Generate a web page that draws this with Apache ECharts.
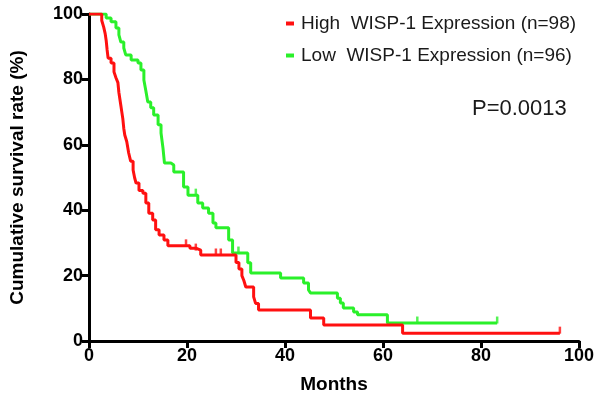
<!DOCTYPE html>
<html>
<head>
<meta charset="utf-8">
<script src="https://cdn.jsdelivr.net/npm/echarts@6/dist/echarts.min.js"></script>
<style>html,body{margin:0;padding:0;background:#fff}#c{width:600px;height:403px}</style>
</head>
<body>
<div id="c"></div>
<script>
var xTicks = [0, 20, 40, 60, 80, 100];
var yTicks = [0, 20, 40, 60, 80, 100];
var highName = 'High  WISP-1 Expression (n=98)';
var lowName = 'Low  WISP-1 Expression (n=96)';
var pText = 'P=0.0013';

var highSteps = [
  [0,100],[2.6,98],[3.0,96],[3.3,94],[3.5,92],[3.7,89],[3.9,86.5],[4.5,85],[5.1,82.3],
  [5.5,80.5],[5.9,79],[6.1,76],[6.3,74],[6.5,72],[6.7,70],[6.9,68],[7.1,65],[7.3,63],
  [7.7,61],[8.1,57.5],[8.5,55],[9.0,52.3],[9.3,50],[9.6,48.3],[10.2,46],[11.0,45.2],
  [11.6,42.2],[12.2,39.1],[13.0,37],[13.6,34],[14.3,32.4],[15.3,30.9],[16.1,29.1],
  [20.6,28.4],[21.8,27.8],[22.8,26.3],[30.0,24],[30.6,22],[31.2,20],[31.6,18.5],
  [32.0,16.5],[33.6,13.5],[34.0,11.5],[34.6,9.5],[45.2,7.0],[47.9,4.9],[64.0,2.4],[96.1,2.4]
];
var lowSteps = [
  [0,100],[2.85,100],[3.5,98.8],[4.5,97.6],[5.5,95.7],[6.1,93.6],[6.5,91.4],[7.1,89.6],
  [7.5,87.5],[8.6,85.9],[10.0,85.0],[10.6,82.9],[11.2,79.8],[11.6,76.5],[12.0,73.1],
  [12.6,71.3],[13.2,69.1],[14.1,66.1],[14.7,63.6],[15.1,59],[15.4,54.4],[16.7,53.8],
  [17.3,51.7],[19.3,47.1],[20.2,44.6],[22.2,42.2],[23.2,40.7],[24.4,39.1],[25.3,36.1],
  [25.9,34.6],[28.5,30.9],[29.3,26.9],[32.4,23.9],[33.0,20.8],[39.1,19.3],[43.8,17.7],
  [44.8,15.6],[45.2,14.7],[50.7,13.1],[51.3,11.6],[51.9,10.1],[54.0,8.9],[54.8,8.0],
  [60.9,5.5],[83.3,5.5]
];
var highCensor = [[19.8,29.1],[21.8,27.8],[25.9,26.3],[26.9,26.3],[96.1,2.4]];
var lowCensor = [[21.8,44.6],[30.5,26.9],[67.0,5.5],[83.3,5.5]];

var RED = '#ff1010';
var GREEN = '#2af02a';
var chart = echarts.init(document.getElementById('c'));
var fontFam = '"Liberation Sans", Arial, Helvetica, sans-serif';
chart.setOption({
  animation: false,
  backgroundColor: '#fff',
  grid: {left: 88, right: 21, top: 14, bottom: 62, containLabel: false},
  legend: {
    left: 281, top: 9, orient: 'vertical', itemGap: 13,
    itemWidth: 8, itemHeight: 4, icon: 'rect',
    textStyle: {fontFamily: fontFam, fontSize: 19, color: '#1a1a1a', padding: [0,0,0,2]},
    data: [{name: highName, itemStyle: {color: RED}}, {name: lowName, itemStyle: {color: GREEN}}]
  },
  xAxis: {
    type: 'value', min: 0, max: 100, interval: 20,
    name: 'Months', nameLocation: 'middle', nameGap: 34,
    nameTextStyle: {fontFamily: fontFam, fontSize: 19, fontWeight: 'bold', color: '#000'},
    axisLine: {show: true, onZero: false, lineStyle: {color: '#000', width: 3}},
    axisTick: {show: true, length: 7, lineStyle: {color: '#000', width: 3}},
    axisLabel: {fontFamily: fontFam, fontSize: 18, fontWeight: 'bold', color: '#000', margin: 6,
      formatter: function(v){ return xTicks.indexOf(v) >= 0 ? String(v) : ''; }},
    splitLine: {show: false}
  },
  yAxis: {
    type: 'value', min: 0, max: 100, interval: 20,
    name: 'Cumulative survival rate (%)', nameLocation: 'middle', nameGap: 62,
    nameTextStyle: {fontFamily: fontFam, fontSize: 19, fontWeight: 'bold', color: '#000'},
    axisLine: {show: true, onZero: false, lineStyle: {color: '#000', width: 3}},
    axisTick: {show: true, length: 7, lineStyle: {color: '#000', width: 3}},
    axisLabel: {fontFamily: fontFam, fontSize: 18, fontWeight: 'bold', color: '#000', margin: 6,
      formatter: function(v){ return yTicks.indexOf(v) >= 0 ? String(v) : ''; }},
    splitLine: {show: false}
  },
  graphic: [{
    type: 'text', left: 472, top: 98,
    style: {text: pText, fontFamily: fontFam, fontSize: 22, fill: '#1a1a1a'}
  }],
  series: [
    {name: lowName, type: 'line', step: 'end', data: lowSteps, showSymbol: false,
     lineStyle: {color: GREEN, width: 3}, itemStyle: {color: GREEN}, z: 3},
    {name: highName, type: 'line', step: 'end', data: highSteps, showSymbol: false,
     lineStyle: {color: RED, width: 3}, itemStyle: {color: RED}, z: 4},
    {name: highName, type: 'scatter', data: highCensor, symbol: 'rect', symbolSize: [2.5, 7],
     symbolOffset: [0, -3], itemStyle: {color: RED}, z: 5},
    {name: lowName, type: 'scatter', data: lowCensor, symbol: 'rect', symbolSize: [2.5, 7],
     symbolOffset: [0, -3], itemStyle: {color: GREEN}, z: 5}
  ]
});
</script>
</body>
</html>
